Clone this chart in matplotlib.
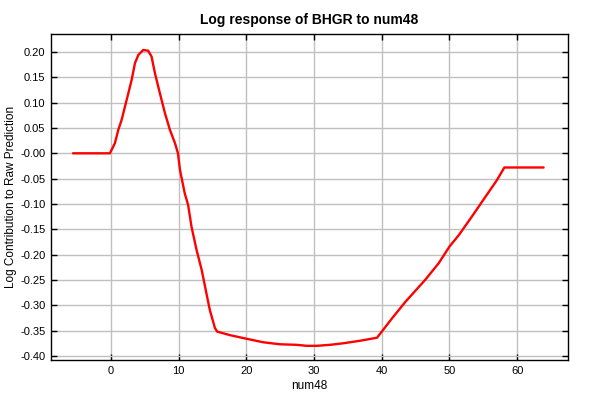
import matplotlib
matplotlib.use("Agg")
import matplotlib.pyplot as plt
from matplotlib.ticker import FixedLocator, FixedFormatter

plt.rcParams['font.family'] = ['Liberation Sans', 'DejaVu Sans']

# data
x_vals = [-5.6, -0.15, 0.59, 1.08, 1.58, 2.07, 2.56, 3.06, 3.55, 4.04, 4.78, 5.5, 6.0, 6.5,
          7.24, 7.98, 8.72, 9.46, 9.9, 10.2, 10.9, 11.4, 11.9, 12.65, 13.4, 13.9, 14.6,
          15.36, 15.7, 17.6, 20.0, 22.5, 25.0, 27.4, 28.9, 30.4, 32.4, 34.3, 36.8, 39.3,
          41.5, 43.5, 46.4, 48.4, 50.0, 51.4, 53.3, 55.3, 57.0, 58.1, 63.9]
y_vals = [0.0, 0.0, 0.020, 0.046, 0.066, 0.092, 0.118, 0.145, 0.178, 0.194, 0.204, 0.2025,
          0.191, 0.158, 0.118, 0.079, 0.046, 0.020, 0.0, -0.033, -0.079, -0.102, -0.145,
          -0.191, -0.230, -0.263, -0.309, -0.345, -0.352, -0.359, -0.366, -0.373, -0.377,
          -0.378, -0.380, -0.380, -0.378, -0.375, -0.370, -0.364, -0.326, -0.293, -0.250,
          -0.217, -0.184, -0.161, -0.125, -0.086, -0.053, -0.028, -0.028]

x_ticks = [0, 10, 20, 30, 40, 50, 60]
x_tick_labels = ["0", "10", "20", "30", "40", "50", "60"]
y_ticks = [0.20, 0.15, 0.10, 0.05, 0.0, -0.05, -0.10, -0.15, -0.20, -0.25, -0.30, -0.35, -0.40]
y_tick_labels = ["0.20", "0.15", "0.10", "0.05", "-0.00", "-0.05", "-0.10", "-0.15",
                 "-0.20", "-0.25", "-0.30", "-0.35", "-0.40"]

title = "Log response of BHGR to num48"
x_label = "num48"
y_label = "Log Contribution to Raw Prediction"

fig = plt.figure(figsize=(6, 4), dpi=100)
ax = fig.add_axes([51/600, 40/400, 517/600, 326/400])

ax.plot(x_vals, y_vals, color='#ff0000', linewidth=1.7, solid_joinstyle='round',
        solid_capstyle='round', zorder=3)

ax.set_xlim(-8.85, 67.5)
ax.set_ylim(-0.408, 0.2355)

ax.xaxis.set_major_locator(FixedLocator(x_ticks))
ax.xaxis.set_major_formatter(FixedFormatter(x_tick_labels))
ax.yaxis.set_major_locator(FixedLocator(y_ticks))
ax.yaxis.set_major_formatter(FixedFormatter(y_tick_labels))

ax.grid(True, color='#c0c0c0', linewidth=1.0, zorder=0)
ax.set_axisbelow(True)
ax.tick_params(direction='in', length=4, width=1, top=True, right=True,
               labelsize=8, colors='black', pad=4)
for s in ax.spines.values():
    s.set_linewidth(1.0)
    s.set_color('black')

ax.set_title(title, fontsize=10, fontweight='bold', pad=7)
ax.set_xlabel(x_label, fontsize=8.5, labelpad=3)
ax.set_ylabel(y_label, fontsize=8.5, labelpad=2)

fig.savefig("out.png", dpi=100)
